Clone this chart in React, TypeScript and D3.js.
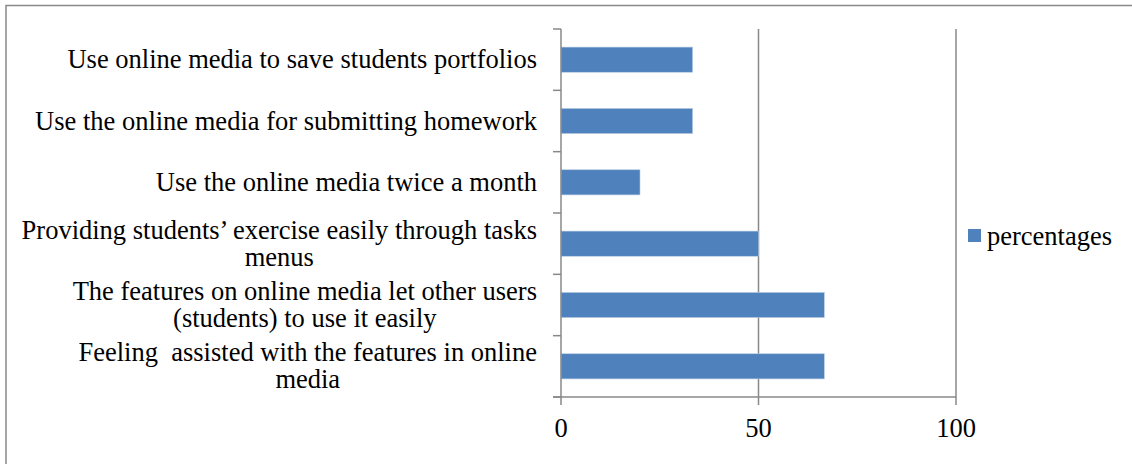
import React, { useEffect, useRef } from 'react'
import * as d3 from 'd3'

const categories = [
  ['Use online media to save students portfolios'],
  ['Use the online media for submitting homework'],
  ['Use the online media twice a month'],
  ['Providing students\u2019 exercise easily through tasks', 'menus'],
  ['The features on online media let other users', '(students) to use it easily'],
  ['Feeling  assisted with the features in online', 'media'],
]
const percentages = [33.33, 33.33, 20, 50, 66.67, 66.67]
const xTicks = [0, 50, 100]
const seriesName = 'percentages'

export default function App() {
  const ref = useRef<SVGSVGElement>(null)

  useEffect(() => {
    const svg = d3.select(ref.current)
    svg.selectAll('*').remove()
    const width = 1132
    const height = 464
    const font = 'Liberation Serif'
    const fontSize = 26.5

    const x = d3.scaleLinear().domain([0, 100]).range([561, 956])
    const y = d3
      .scaleBand()
      .domain(categories.map((_, i) => String(i)))
      .range([29, 397])
      .paddingInner(0.59)
      .paddingOuter(0.295)

    // chart border
    svg
      .append('rect')
      .attr('x', 6)
      .attr('y', 5.5)
      .attr('width', width)
      .attr('height', height)
      .attr('fill', 'none')
      .attr('stroke', '#898989')
      .attr('stroke-width', 1.5)

    // grid lines
    svg
      .append('g')
      .selectAll('line')
      .data(xTicks.slice(1))
      .join('line')
      .attr('x1', (d) => x(d))
      .attr('x2', (d) => x(d))
      .attr('y1', 29)
      .attr('y2', 397)
      .attr('stroke', '#888')
      .attr('stroke-width', 1.5)

    // bars
    svg
      .append('g')
      .selectAll('rect')
      .data(percentages)
      .join('rect')
      .attr('x', x(0))
      .attr('y', (_, i) => y(String(i)))
      .attr('width', (d) => x(d) - x(0))
      .attr('height', y.bandwidth())
      .attr('fill', '#4F81BD')
      .attr('stroke', '#b9cde5')
      .attr('stroke-width', 0.6)

    // y axis
    const yAxis = svg.append('g').attr('stroke', '#888').attr('stroke-width', 1.5)
    yAxis.append('line').attr('x1', x(0)).attr('x2', x(0)).attr('y1', 29).attr('y2', 397)
    const step = y.step()
    yAxis
      .selectAll('line.tick')
      .data(d3.range(categories.length + 1))
      .join('line')
      .attr('class', 'tick')
      .attr('x1', x(0) - 8)
      .attr('x2', x(0))
      .attr('y1', (i) => 29 + i * step)
      .attr('y2', (i) => 29 + i * step)

    // x axis
    const xAxis = svg.append('g').attr('stroke', '#888').attr('stroke-width', 1.5)
    xAxis.append('line').attr('x1', x(0) - 8).attr('x2', x(100)).attr('y1', 397).attr('y2', 397)
    xAxis
      .selectAll('line.tick')
      .data(xTicks)
      .join('line')
      .attr('class', 'tick')
      .attr('x1', (d) => x(d))
      .attr('x2', (d) => x(d))
      .attr('y1', 397)
      .attr('y2', 405)

    svg
      .append('g')
      .selectAll('text')
      .data(xTicks)
      .join('text')
      .attr('x', (d) => x(d))
      .attr('y', 437)
      .attr('text-anchor', 'middle')
      .attr('font-family', font)
      .attr('font-size', fontSize)
      .attr('fill', '#000')
      .text((d) => d)

    // category labels: each block right-aligned at 537, lines centred in the block
    const labels = svg
      .append('g')
      .attr('font-family', font)
      .attr('font-size', fontSize)
      .attr('fill', '#000')
    categories.forEach((lines, i) => {
      const cy = (y(String(i)) as number) + y.bandwidth() / 2
      const lh = 27
      const t = labels
        .append('text')
        .attr('text-anchor', 'middle')
        .attr('xml:space', 'preserve')
        .style('white-space', 'pre')
      const spans = lines.map((line, j) =>
        t
          .append('tspan')
          .attr('y', cy + 8.5 + (j - (lines.length - 1) / 2) * lh)
          .text(line)
      )
      const maxW = d3.max(spans, (s) => (s.node() as SVGTSpanElement).getComputedTextLength()) || 0
      spans.forEach((s) => s.attr('x', 537 - maxW / 2))
    })

    // legend
    const legend = svg.append('g')
    legend
      .append('rect')
      .attr('x', 968)
      .attr('y', 229)
      .attr('width', 13)
      .attr('height', 13)
      .attr('fill', '#4F81BD')
    legend
      .append('text')
      .attr('x', 987)
      .attr('y', 245)
      .attr('font-family', font)
      .attr('font-size', fontSize)
      .attr('fill', '#000')
      .text(seriesName)
  }, [])

  return (
    <svg
      ref={ref}
      width={1132}
      height={464}
      style={{ position: 'absolute', left: 0, top: 0, background: '#fff' }}
    />
  )
}
